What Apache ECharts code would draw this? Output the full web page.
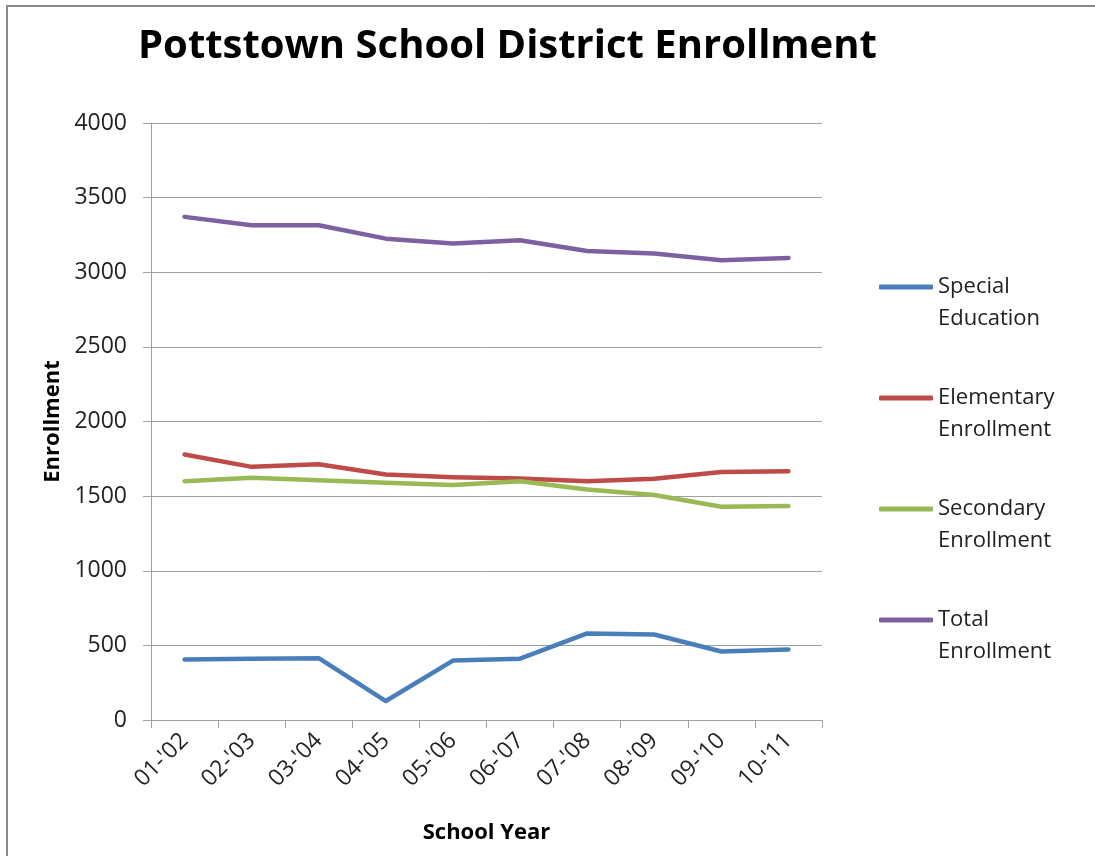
<!DOCTYPE html>
<html>
<head>
<meta charset="utf-8">
<script src="https://cdn.jsdelivr.net/npm/echarts@6/dist/echarts.min.js"></script>
<style>
html,body{margin:0;padding:0;background:#fff;}
#chart{width:1095px;height:856px;}
</style>
</head>
<body>
<div id="chart"></div>
<script>
const categories = ["01-'02","02-'03","03-'04","04-'05","05-'06","06-'07","07-'08","08-'09","09-'10","10-'11"];
const specialEducation = [405, 411, 414, 127, 398, 411, 580, 573, 459, 473];
const elementaryEnrollment = [1779, 1696, 1714, 1645, 1627, 1618, 1600, 1616, 1661, 1667];
const secondaryEnrollment = [1600, 1623, 1607, 1589, 1574, 1600, 1545, 1507, 1429, 1433];
const totalEnrollment = [3371, 3315, 3315, 3225, 3192, 3214, 3143, 3125, 3080, 3096];
const seriesNames = ["Special\nEducation", "Elementary\nEnrollment", "Secondary\nEnrollment", "Total\nEnrollment"];
const yTicks = [0, 500, 1000, 1500, 2000, 2500, 3000, 3500, 4000];

const colors = ['#4A7EBB', '#BE4B48', '#98B954', '#7D60A0'];
const font = "'Open Sans', 'Noto Sans', sans-serif";
const chart = echarts.init(document.getElementById('chart'));
const mk = (name, data, c) => ({
  name, type: 'line', data, symbol: 'none', smooth: false,
  lineStyle: {color: c, width: 4.5, cap: 'round', join: 'round'},
  itemStyle: {color: c},
  emphasis: {disabled: true}
});
chart.setOption({
  animation: false,
  color: colors,
  title: {
    text: 'Pottstown School District Enrollment',
    left: 133, top: 22,
    textStyle: {fontFamily: font, fontWeight: 'bold', fontSize: 40, color: '#000'}
  },
  legend: {
    orient: 'vertical', left: 874, top: 234,
    itemWidth: 54, itemHeight: 5, itemGap: 15,
    icon: 'roundRect',
    formatter: n => '\n' + n,
    textStyle: {fontFamily: font, fontSize: 22, color: '#222', lineHeight: 32}
  },
  grid: {left: 151, right: 273, top: 123, bottom: 136, containLabel: false},
  xAxis: {
    type: 'category', data: categories, boundaryGap: true,
    name: 'School Year', nameLocation: 'middle', nameGap: 102,
    nameTextStyle: {fontFamily: font, fontWeight: 'bold', fontSize: 22, color: '#000'},
    axisLine: {lineStyle: {color: '#a0a0a0', width: 1}},
    axisTick: {show: true, length: 8, alignWithLabel: false, lineStyle: {color: '#a0a0a0'}},
    axisLabel: {rotate: 45, fontFamily: font, fontSize: 23, color: '#222', margin: 17, interval: 0},
    splitLine: {show: false}
  },
  yAxis: {
    type: 'value', min: yTicks[0], max: yTicks[yTicks.length - 1], interval: 500,
    name: 'Enrollment', nameLocation: 'middle', nameGap: 86,
    nameTextStyle: {fontFamily: font, fontWeight: 'bold', fontSize: 22, color: '#000'},
    axisLine: {show: true, lineStyle: {color: '#a0a0a0', width: 1}},
    axisTick: {show: true, length: 8, lineStyle: {color: '#a0a0a0'}},
    axisLabel: {fontFamily: font, fontSize: 23, color: '#222', margin: 24, formatter: v => String(v)},
    splitLine: {show: true, lineStyle: {color: '#a0a0a0', width: 1}}
  },
  graphic: [
    {type: 'line', shape: {x1: 7, y1: 6, x2: 7, y2: 856}, style: {stroke: '#8c8c8c', lineWidth: 2}},
    {type: 'line', shape: {x1: 6, y1: 6, x2: 1095, y2: 6}, style: {stroke: '#8c8c8c', lineWidth: 2}}
  ],
  series: [
    mk(seriesNames[0], specialEducation, colors[0]),
    mk(seriesNames[1], elementaryEnrollment, colors[1]),
    mk(seriesNames[2], secondaryEnrollment, colors[2]),
    mk(seriesNames[3], totalEnrollment, colors[3])
  ]
});
</script>
</body>
</html>
